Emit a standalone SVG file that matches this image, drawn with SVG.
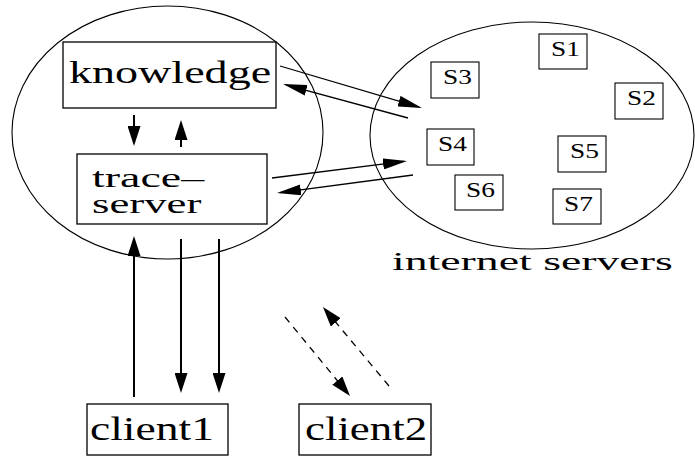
<svg xmlns="http://www.w3.org/2000/svg" width="695" height="457" viewBox="0 0 695 457">
<style>
.ell{fill:none;stroke:#000;stroke-width:1.1}
.box{fill:#fff;stroke:#000;stroke-width:1.3}
.sbox{fill:#fff;stroke:#000;stroke-width:1.1}
.t{font-family:"Liberation Serif","Times New Roman",serif;fill:#000}
.s{font-size:20px}
.v{fill:none;stroke:#000;stroke-width:2}
.d{fill:none;stroke:#000;stroke-width:1.3}
.ds{fill:none;stroke:#000;stroke-width:1.3;stroke-dasharray:7 6}
</style>
<defs>
<marker id="ah" markerUnits="userSpaceOnUse" markerWidth="20" markerHeight="13" viewBox="0 0 20 13" refX="17" refY="6.5" orient="auto">
<path d="M0,0 L20,6.5 L0,13 z" fill="#000"/>
</marker>
<marker id="ah2" markerUnits="userSpaceOnUse" markerWidth="24" markerHeight="11" viewBox="0 0 24 11" refX="21" refY="5.5" orient="auto">
<path d="M0,0 L24,5.5 L0,11 z" fill="#000"/>
</marker>
</defs>
<g id="proxy-region">
<ellipse class="ell" cx="167.5" cy="132.5" rx="155.5" ry="126.5"/>
</g>
<g id="internet-servers">
<ellipse class="ell" cx="532" cy="135.5" rx="162" ry="113.5"/>
<text class="t" font-size="26" transform="translate(392,270) scale(1.76,1)">internet servers</text>
</g>
<g id="knowledge">
<rect class="box" x="63" y="42" width="213" height="66"/>
<text class="t" font-size="32" transform="translate(69,83) scale(1.44,1)">knowledge</text>
</g>
<g id="trace-server">
<rect class="box" x="77" y="154" width="190" height="70"/>
<text class="t" font-size="28" transform="translate(92,187) scale(1.64,1)">trace–</text>
<text class="t" font-size="28" transform="translate(92,213) scale(1.6,1)">server</text>
</g>
<g id="s1"><rect class="sbox" x="539" y="34" width="48" height="35"/><text class="t s" transform="translate(551,56) scale(1.37,1)">S1</text></g>
<g id="s2"><rect class="sbox" x="615" y="83" width="48" height="36"/><text class="t s" transform="translate(627,105) scale(1.37,1)">S2</text></g>
<g id="s3"><rect class="sbox" x="431" y="62" width="48" height="36"/><text class="t s" transform="translate(443,84) scale(1.37,1)">S3</text></g>
<g id="s4"><rect class="sbox" x="427" y="129" width="47" height="36"/><text class="t s" transform="translate(438,151) scale(1.37,1)">S4</text></g>
<g id="s5"><rect class="sbox" x="558" y="136" width="48" height="36"/><text class="t s" transform="translate(570,158) scale(1.37,1)">S5</text></g>
<g id="s6"><rect class="sbox" x="455" y="175" width="48" height="35"/><text class="t s" transform="translate(466,197) scale(1.37,1)">S6</text></g>
<g id="s7"><rect class="sbox" x="553" y="189" width="48" height="35"/><text class="t s" transform="translate(564,211) scale(1.37,1)">S7</text></g>
<g id="client1">
<rect class="box" x="87" y="404" width="141" height="51"/>
<text class="t" font-size="34" transform="translate(90,440) scale(1.34,1)">client1</text>
</g>
<g id="client2">
<rect class="box" x="299" y="404" width="132" height="51"/>
<text class="t" font-size="34" transform="translate(305,440) scale(1.32,1)">client2</text>
</g>
<g id="connectors">
<line class="v" x1="134" y1="115" x2="134" y2="143" marker-end="url(#ah)"/>
<line class="v" x1="181" y1="147" x2="181" y2="123" marker-end="url(#ah)"/>
<line class="v" x1="134" y1="397" x2="134" y2="239" marker-end="url(#ah)"/>
<line class="v" x1="181" y1="239" x2="181" y2="390" marker-end="url(#ah)"/>
<line class="v" x1="219" y1="239" x2="219" y2="390" marker-end="url(#ah)"/>
<line class="d" x1="280" y1="66" x2="419.1" y2="107.1" marker-end="url(#ah2)"/>
<line class="d" x1="408" y1="118" x2="285.9" y2="84.8" marker-end="url(#ah2)"/>
<line class="d" x1="272" y1="178" x2="404" y2="161.4" marker-end="url(#ah2)"/>
<line class="d" x1="413" y1="175" x2="280" y2="192.6" marker-end="url(#ah2)"/>
<line class="ds" x1="285" y1="317" x2="348.1" y2="393.7" marker-end="url(#ah)"/>
<line class="ds" x1="389" y1="386" x2="324.9" y2="309.3" marker-end="url(#ah)"/>
</g>
</svg>
